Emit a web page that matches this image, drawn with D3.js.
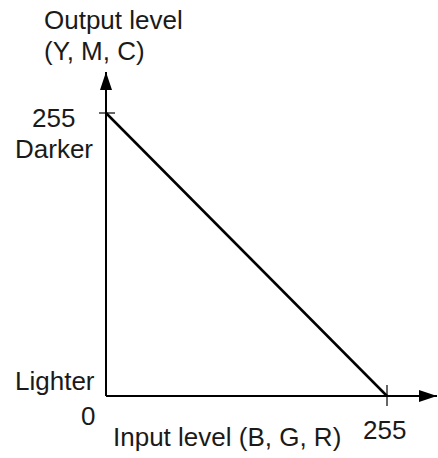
<!DOCTYPE html>
<html>
<head>
<meta charset="utf-8">
<script src="https://cdn.jsdelivr.net/npm/d3@7"></script>
<style>
  body { margin: 0; background: #fff; }
  text { font-family: "Liberation Sans", Arial, sans-serif; fill: #1a1a1a; }
</style>
</head>
<body>
<div id="chart"></div>
<script>
// tone curve: input level vs output level
var inputLevels = [0, 255];
var outputLevels = [255, 0];
var xTicks = [255];
var yTicks = [255];

var width = 438, height = 458;
var x = d3.scaleLinear().domain([0, 255]).range([106, 387]);
var y = d3.scaleLinear().domain([0, 255]).range([396, 113]);

var svg = d3.select("#chart").append("svg")
    .attr("width", width)
    .attr("height", height);

var defs = svg.append("defs");
defs.append("marker")
    .attr("id", "arrow")
    .attr("viewBox", "0 0 18 12")
    .attr("refX", 18).attr("refY", 6)
    .attr("markerWidth", 18).attr("markerHeight", 12)
    .attr("markerUnits", "userSpaceOnUse")
    .attr("orient", "auto")
  .append("path")
    .attr("d", "M0,0 L18,6 L0,12 Z")
    .attr("fill", "#000");

// axes
svg.append("line")
    .attr("x1", x(0)).attr("y1", y(0))
    .attr("x2", 437).attr("y2", y(0))
    .attr("stroke", "#000").attr("stroke-width", 2)
    .attr("marker-end", "url(#arrow)");

svg.append("line")
    .attr("x1", x(0)).attr("y1", y(0))
    .attr("x2", x(0)).attr("y2", 72)
    .attr("stroke", "#000").attr("stroke-width", 2)
    .attr("marker-end", "url(#arrow)");

// ticks
svg.selectAll(".xtick").data(xTicks).enter().append("line")
    .attr("x1", d => x(d)).attr("x2", d => x(d))
    .attr("y1", y(0) - 11).attr("y2", y(0) + 10)
    .attr("stroke", "#000").attr("stroke-width", 1.2);

svg.selectAll(".ytick").data(yTicks).enter().append("line")
    .attr("y1", d => y(d)).attr("y2", d => y(d))
    .attr("x1", x(0) - 7).attr("x2", x(0) + 9)
    .attr("stroke", "#000").attr("stroke-width", 1.2);

// the curve
var line = d3.line()
    .x(d => x(d[0]))
    .y(d => y(d[1]));

svg.append("path")
    .datum(d3.zip(inputLevels, outputLevels))
    .attr("d", line)
    .attr("fill", "none")
    .attr("stroke", "#000")
    .attr("stroke-width", 2.5);

// labels
var fs = "26px";
function label(t, px, py, anchor) {
    svg.append("text")
        .attr("x", px).attr("y", py)
        .attr("text-anchor", anchor || "start")
        .style("font-size", fs)
        .text(t);
}

label("Output level", 44, 29);
label("(Y, M, C)", 44, 60);
label("255", 32, 127);
label("Darker", 15, 158);
label("Lighter", 15, 390);
label("0", 81, 425);
label("Input level (B, G, R)", 113, 446);
label("255", 363, 439);
</script>
</body>
</html>
